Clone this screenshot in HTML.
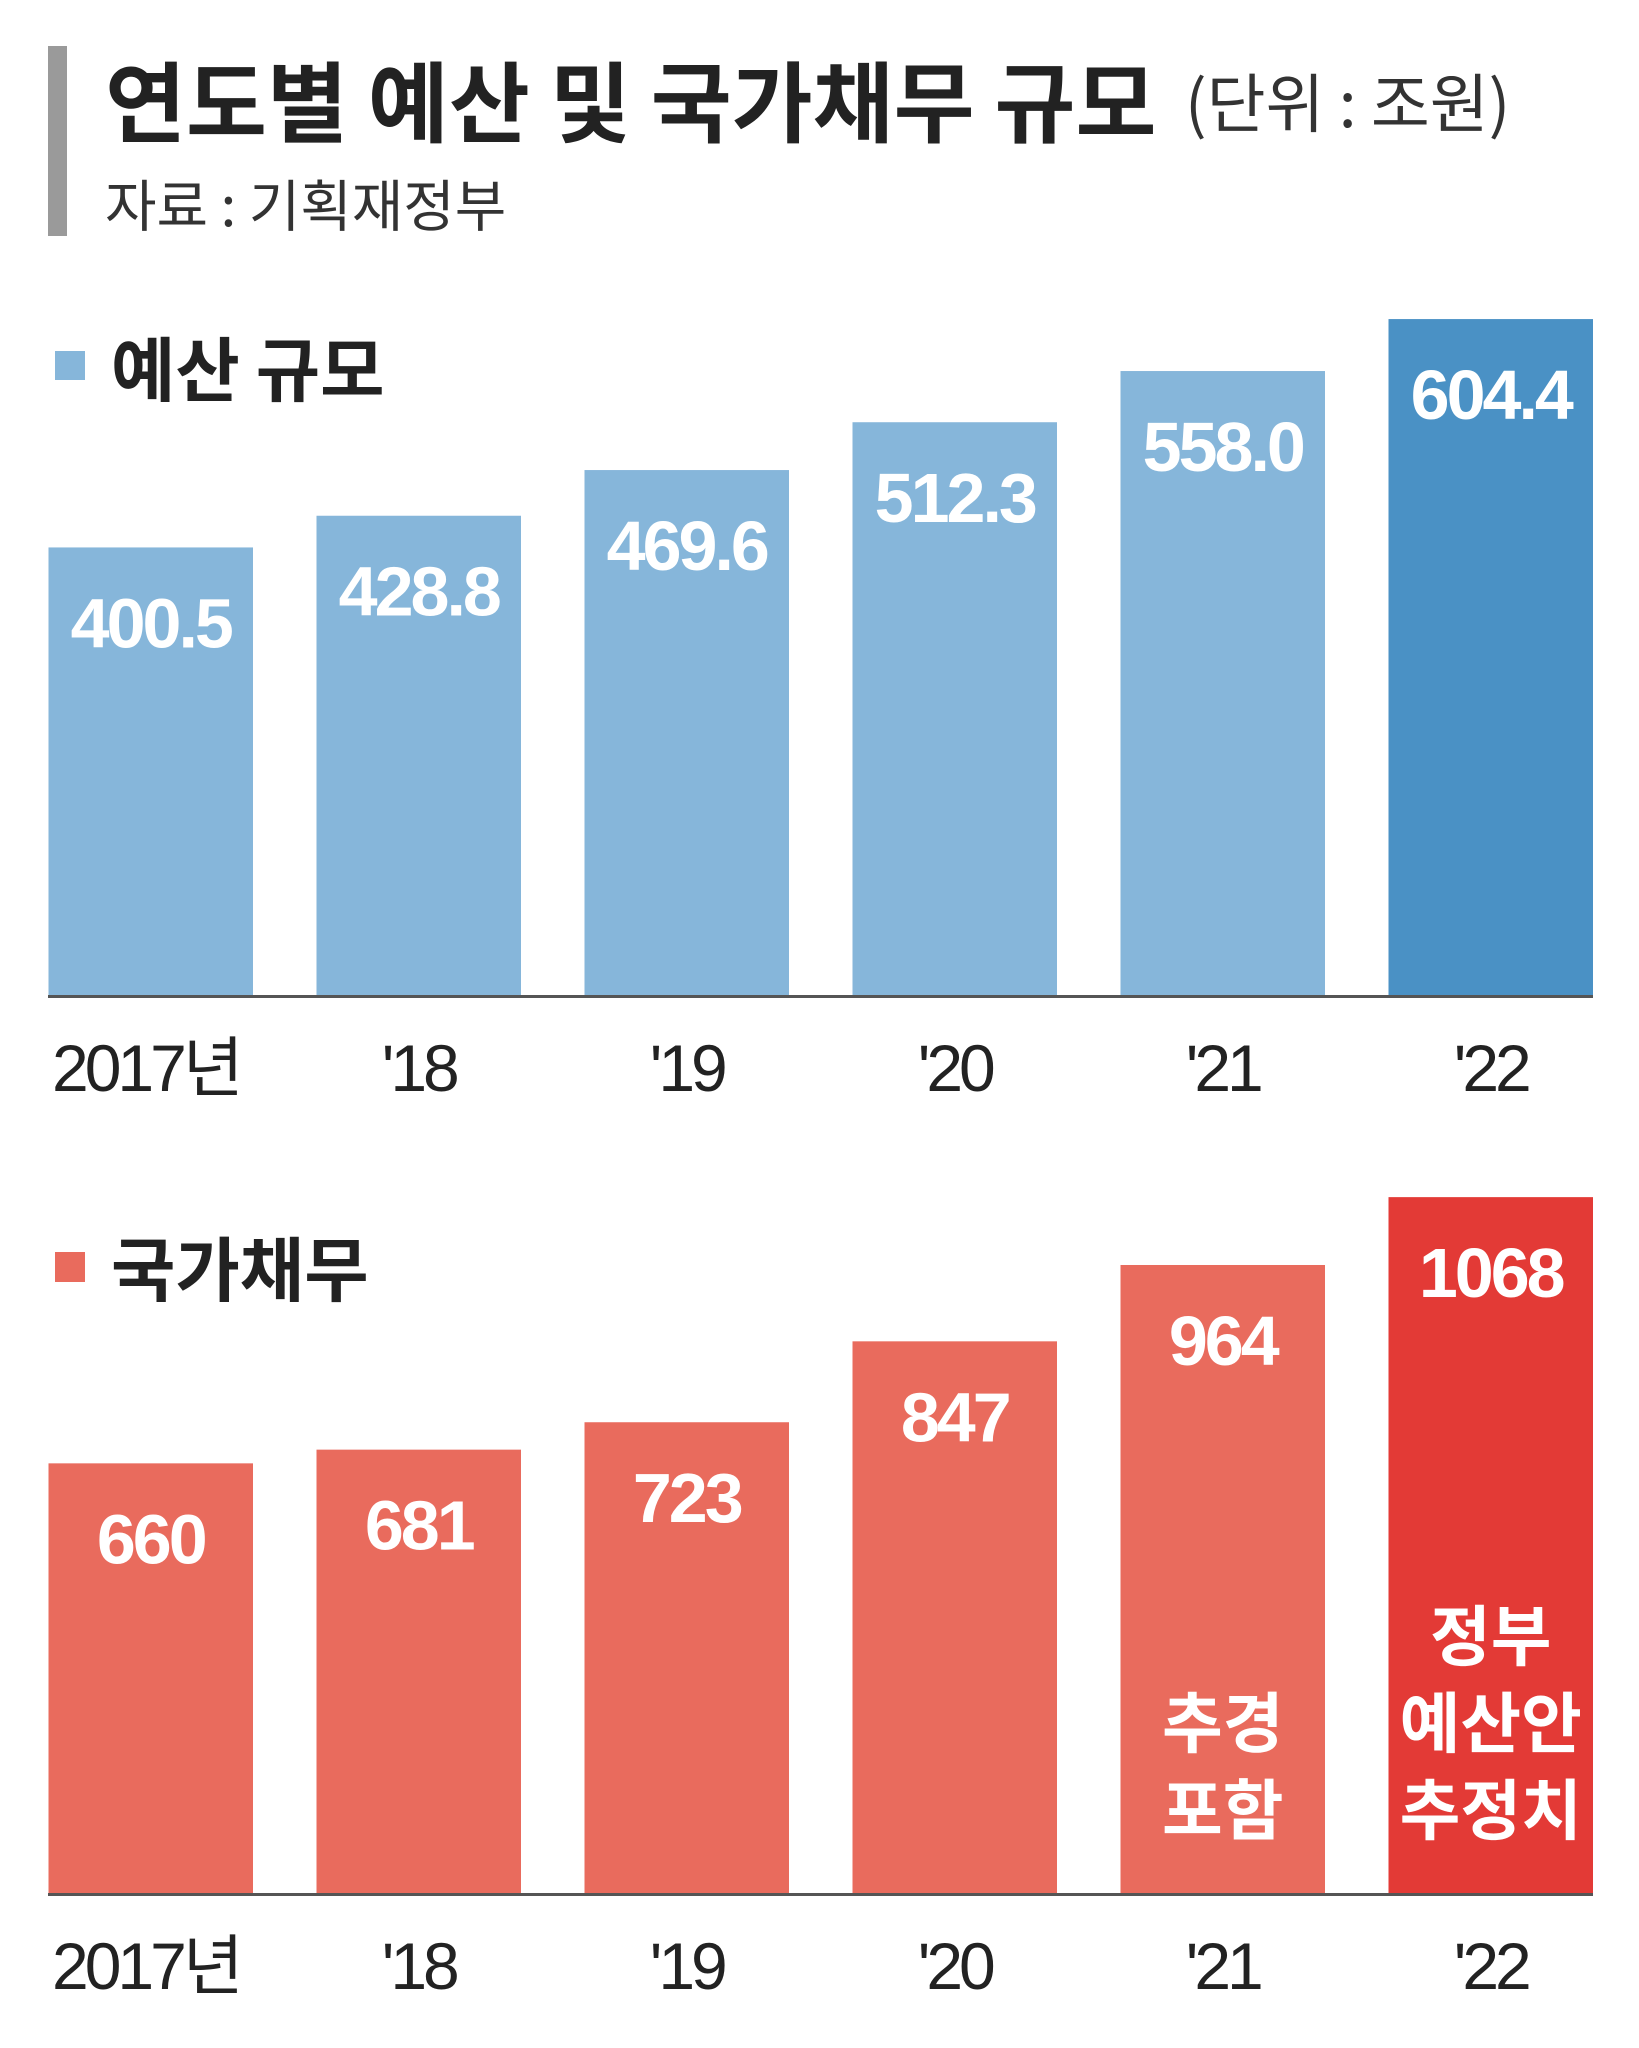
<!DOCTYPE html>
<html><head><meta charset="utf-8">
<style>
html,body{margin:0;padding:0;background:#fff;}
svg{display:block;}
text{font-family:"Liberation Sans","Noto Sans CJK KR",sans-serif;}
.k{font-family:"Noto Sans CJK KR","NanumGothic",sans-serif;}
</style></head>
<body>
<svg id="chart" width="1639" height="2048" viewBox="0 0 1639 2048" xmlns="http://www.w3.org/2000/svg">
  <rect x="48" y="46" width="19" height="190" fill="#9a9a9a"/>
  <text x="105" y="98" class="k" font-size="88" font-weight="700" fill="#222" dominant-baseline="central">연도별 예산 및 국가채무 규모</text>
  <text x="1185" y="100" class="k" font-size="64" fill="#333" dominant-baseline="central">(단위 : 조원)</text>
  <text x="105" y="203" class="k" font-size="56" fill="#333" dominant-baseline="central">자료 : 기획재정부</text>

  <rect x="55" y="351" width="30" height="29" fill="#86b6da"/>
  <text x="111" y="366" class="k" font-size="70" font-weight="700" fill="#222" dominant-baseline="central">예산 규모</text>

  <rect x="55" y="1252" width="30" height="30" fill="#e96b5d"/>
  <text x="111" y="1266" class="k" font-size="70" font-weight="700" fill="#222" dominant-baseline="central">국가채무</text>

  <g id="g1"></g>
  <g id="g2"></g>
</svg>
<script>
const categories = ["2017년", "'18", "'19", "'20", "'21", "'22"];
const budgetValues = [400.5, 428.8, 469.6, 512.3, 558.0, 604.4];
const budgetLabels = ["400.5", "428.8", "469.6", "512.3", "558.0", "604.4"];
const debtValues = [660, 681, 723, 847, 964, 1068];
const debtLabels = ["660", "681", "723", "847", "964", "1068"];
const debtNotes = [[], [], [], [], ["추경", "포함"], ["정부", "예산안", "추정치"]];

const NS = "http://www.w3.org/2000/svg";
function mk(tag, attrs, parent) {
  const e = document.createElementNS(NS, tag);
  for (const k in attrs) e.setAttribute(k, attrs[k]);
  parent.appendChild(e);
  return e;
}
const barX = i => 48.5 + i * 268;
const barW = 204.5;

function drawChart(g, values, labels, baseY, scale, light, dark, labelY, prefix, notes) {
  values.forEach((v, i) => {
    const h = v * scale;
    const r = mk('rect', {x: barX(i), y: baseY - h, width: barW, height: h, fill: i === values.length - 1 ? dark : light}, g);
    
    
    const t = mk('text', {x: barX(i) + barW / 2, y: baseY - h + 76, 'text-anchor': 'middle', 'dominant-baseline': 'central', 'font-size': 70, 'font-weight': 700, fill: '#fff', 'letter-spacing': '-3'}, g);
    t.textContent = labels[i];
    
    
    if (notes && notes[i].length) {
      const n = notes[i].length;
      notes[i].forEach((s, j) => {
        const nt = mk('text', {x: barX(i) + barW / 2, y: baseY - 88 - (n - 1 - j) * 87, 'text-anchor': 'middle', 'dominant-baseline': 'central', 'font-size': 66, 'font-weight': 700, fill: '#fff', class: 'k'}, g);
        nt.textContent = s;
        
        
      });
    }
    const xl = mk('text', {x: i === 0 ? 52 : barX(i) + barW / 2, y: labelY, 'text-anchor': i === 0 ? 'start' : 'middle', 'dominant-baseline': 'central', 'font-size': 66, fill: '#222', 'letter-spacing': '-4'}, g);
    xl.textContent = categories[i];
    
    
  });
  const ax = mk('rect', {x: 48, y: baseY - 1, width: 1545, height: 3, fill: '#555'}, g);
  
  
}
drawChart(document.getElementById('g1'), budgetValues, budgetLabels, 996, 1.12, '#86b6da', '#4a91c5', 1068, 'budget', null);
drawChart(document.getElementById('g2'), debtValues, debtLabels, 1894, 0.6525, '#e96b5d', '#e33a36', 1966, 'debt', debtNotes);
</script>
</body></html>
